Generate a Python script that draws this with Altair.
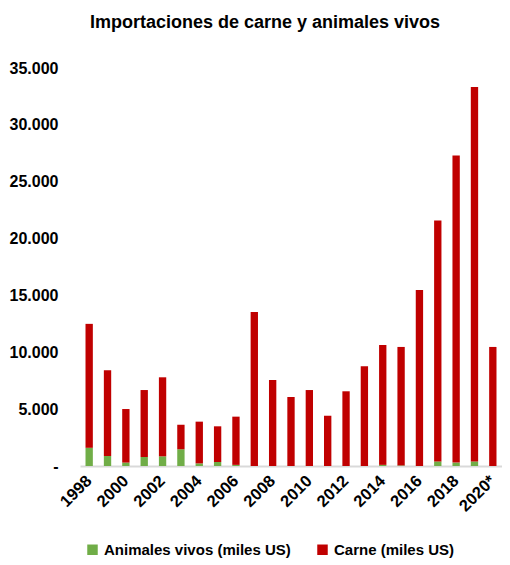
import altair as alt
import pandas as pd

years = ["1998", "1999", "2000", "2001", "2002", "2003", "2004", "2005", "2006", "2007",
         "2008", "2009", "2010", "2011", "2012", "2013", "2014", "2015", "2016", "2017",
         "2018", "2019", "2020*"]
animales = [1600, 880, 300, 790, 850, 1470, 230, 350, 100, 0,
            0, 0, 0, 0, 0, 0, 100, 50, 0, 400,
            300, 400, 0]
total = [12500, 8420, 5010, 6680, 7800, 3630, 3900, 3490, 4340, 13540,
         7560, 6070, 6680, 4420, 6570, 8770, 10640, 10470, 15480, 21600,
         27300, 33330, 10470]
carne = [t - a for t, a in zip(total, animales)]

series_names = ["Animales vivos (miles US)", "Carne (miles US)"]
colors = ["#70AD47", "#C00000"]
shown_labels = ["1998", "2000", "2002", "2004", "2006", "2008", "2010", "2012",
                "2014", "2016", "2018", "2020*"]

rows = []
for i, y in enumerate(years):
    rows.append({"year": y, "serie": series_names[0], "valor": animales[i], "ord": 0})
    rows.append({"year": y, "serie": series_names[1], "valor": carne[i], "ord": 1})
df = pd.DataFrame(rows)

FONT = "Liberation Sans Narrow, Liberation Sans, Arial"

chart = alt.Chart(df).mark_bar().encode(
    x=alt.X("year:N", sort=years, title=None,
            scale=alt.Scale(paddingInner=0.6, paddingOuter=0.3),
            axis=alt.Axis(values=shown_labels, labelAngle=-45, labelAlign="right",
                          labelBaseline="middle", labelFontSize=16.5, labelFontWeight="bold",
                          labelFont=FONT, labelColor="#000000", ticks=False,
                          domainColor="#d9d9d9", domainWidth=2, labelPadding=12)),
    y=alt.Y("valor:Q", stack="zero", title=None,
            scale=alt.Scale(domain=[0, 35000], nice=False),
            axis=alt.Axis(values=[0, 5000, 10000, 15000, 20000, 25000, 30000, 35000],
                          labelExpr="datum.value == 0 ? '-' : replace(format(datum.value, ','), ',', '.')",
                          grid=False, domain=False, ticks=False, labelPadding=22,
                          labelFontSize=16, labelFontWeight="bold", labelFont=FONT,
                          labelColor="#000000")),
    color=alt.Color("serie:N", sort=series_names, title=None,
                    scale=alt.Scale(domain=series_names, range=colors),
                    legend=alt.Legend(orient="none", legendX=5, legendY=474,
                                      direction="horizontal", symbolType="square",
                                      symbolSize=110, symbolStrokeWidth=0,
                                      labelFontSize=15, labelFontWeight="bold",
                                      labelFont=FONT, labelColor="#000000",
                                      labelLimit=0, columnPadding=24, labelOffset=4)),
    order=alt.Order("ord:Q", sort="ascending"),
).properties(
    width=422, height=398,
    title=alt.TitleParams("Importaciones de carne y animales vivos", fontSize=18,
                          fontWeight="bold", font=FONT, color="#000000", anchor="middle",
                          offset=28, dx=-26),
    autosize=alt.AutoSizeParams(type="none"),
    padding={"left": 72, "top": 60, "right": 0, "bottom": 95},
).configure_view(stroke=None)

chart.save("out.html", embed_options={"renderer": "svg", "actions": False})
